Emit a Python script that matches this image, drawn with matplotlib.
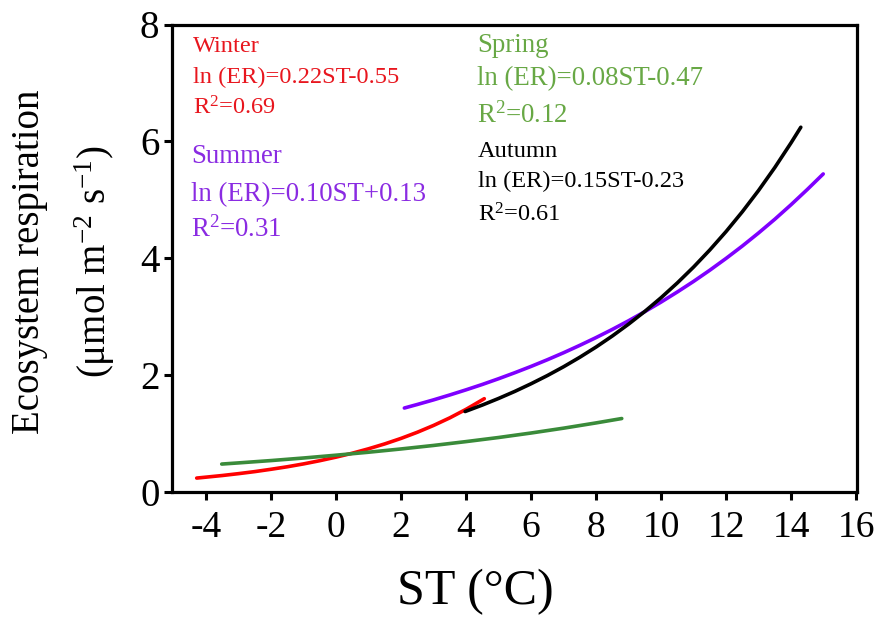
import matplotlib
matplotlib.use('Agg')
import matplotlib.pyplot as plt

plt.rcParams['font.family'] = ['Liberation Serif', 'DejaVu Serif']
plt.rcParams['mathtext.fontset'] = 'custom'
plt.rcParams['mathtext.rm'] = 'Liberation Serif'
plt.rcParams['mathtext.it'] = 'Liberation Serif:italic'

# Curves (ST in degC, ER in umol m-2 s-1)
winter_st = [-4.29, -4, -3.5, -3, -2.5, -2, -1.5, -1, -0.5, 0, 0.5, 1, 1.5, 2, 2.5, 3, 3.5, 4, 4.56]
winter_er = [0.23, 0.246, 0.274, 0.306, 0.341, 0.381, 0.424, 0.473, 0.528, 0.589, 0.656,
             0.732, 0.816, 0.910, 1.015, 1.132, 1.262, 1.408, 1.59]

spring_st = [-3.52, -3, -2, -1, 0, 1, 2, 3, 4, 5, 6, 7, 8, 8.79]
spring_er = [0.47, 0.49, 0.53, 0.574, 0.622, 0.673, 0.729, 0.789, 0.855, 0.925, 1.002, 1.085, 1.175, 1.25]

summer_st = [2.1, 2.5, 3, 3.5, 4, 4.5, 5, 5.5, 6, 6.5, 7, 7.5, 8, 8.5, 9, 9.5, 10,
             10.5, 11, 11.5, 12, 12.5, 13, 13.5, 14, 14.5, 14.99]
summer_er = [1.43, 1.491, 1.570, 1.654, 1.742, 1.834, 1.932, 2.035, 2.143, 2.257, 2.377,
             2.504, 2.637, 2.777, 2.925, 3.081, 3.245, 3.418, 3.599, 3.791, 3.993,
             4.205, 4.429, 4.664, 4.913, 5.174, 5.44]

autumn_st = [3.97, 4.5, 5, 5.5, 6, 6.5, 7, 7.5, 8, 8.5, 9, 9.5, 10, 10.5, 11, 11.5,
             12, 12.5, 13, 13.5, 14, 14.3]
autumn_er = [1.37, 1.481, 1.594, 1.715, 1.846, 1.986, 2.137, 2.300, 2.475, 2.664, 2.867,
             3.085, 3.320, 3.573, 3.845, 4.138, 4.453, 4.792, 5.157, 5.550, 5.973, 6.24]

seasons = ['Winter', 'Spring', 'Summer', 'Autumn']
equations = ['ln (ER)=0.22ST-0.55', 'ln (ER)=0.08ST-0.47',
             'ln (ER)=0.10ST+0.13', 'ln (ER)=0.15ST-0.23']
r2_values = ['0.69', '0.12', '0.31', '0.61']

x_ticks = [-4, -2, 0, 2, 4, 6, 8, 10, 12, 14, 16]
y_ticks = [0, 2, 4, 6, 8]

W, H = 879, 617
fig = plt.figure(figsize=(W / 100, H / 100), dpi=100)
ax = fig.add_axes([172 / W, 1 - 491.5 / H, (856.7 - 172) / W, (491.5 - 24.5) / H])

lw = 2.6
kw = dict(lw=lw, solid_capstyle='round', solid_joinstyle='round')
ax.plot(winter_st, winter_er, color='#ff0000', **kw)
ax.plot(spring_st, spring_er, color='#3a8b3a', **kw)
ax.plot(summer_st, summer_er, color='#7f00ff', **kw)
ax.plot(autumn_st, autumn_er, color='#000000', **kw)

ax.set_xlim(-5.05, 16.02)
ax.set_ylim(0, 8)
ax.set_xticks(x_ticks)
ax.set_yticks(y_ticks)
ax.set_xticklabels([str(t) for t in x_ticks])
for s in ax.spines.values():
    s.set_linewidth(2.3)
ax.tick_params(direction='out', length=6, width=2.2, pad=3)
ax.tick_params(axis='y', labelsize=28)
ax.tick_params(axis='x', labelsize=27, pad=8)

fig.text(475 / W, 1 - 604 / H, 'ST (°C)', fontsize=36, ha='center', va='baseline')
fig.text(30 / W, 1 - 262 / H, 'Ecosystem respiration', rotation=90,
         fontsize=28, ha='center', va='center')
fig.text(95 / W, 1 - 262 / H, '(μmol m$^{-2}$ s$^{-1}$)', rotation=90,
         fontsize=28, ha='center', va='center')

# equation blocks: (x px, baseline px of each line, size, colour)
blocks = [
    (193, [51.7, 83, 114.5], 17.6, '#e8161e'),
    (477, [51.7, 85, 123], 19.4, '#68a845'),
    (191, [163, 201, 237], 19.4, '#8a2be2'),
    (478, [156.7, 186.7, 221.7], 17.6, '#000000'),
]
for i, (xp, ys, fs, col) in enumerate(blocks):
    lines = [seasons[i], equations[i], 'R$^{2}$=' + r2_values[i]]
    for txt, yp in zip(lines, ys):
        fig.text(xp / W, 1 - yp / H, txt, fontsize=fs, color=col,
                 ha='left', va='baseline')

fig.savefig('out.png', dpi=100)
